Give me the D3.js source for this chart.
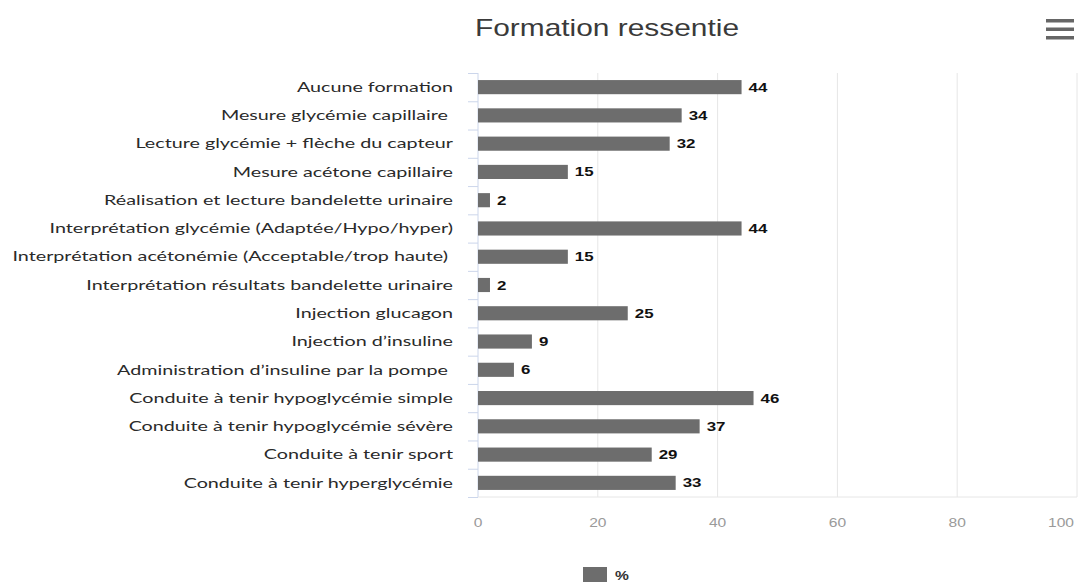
<!DOCTYPE html>
<html>
<head>
<meta charset="utf-8">
<script src="https://cdn.jsdelivr.net/npm/d3@7"></script>
<style>
  body { margin: 0; background: #fff; }
  .cat text { font-family: Lato, "Open Sans", sans-serif; font-size: 13.5px; fill: #2a2a2a; white-space: pre; }
  .axis--x text { font-family: "Liberation Sans", Arial, sans-serif; font-size: 12px; fill: #9a9a9a; }
  .val { font-family: "Liberation Sans", Arial, sans-serif; font-size: 13px; font-weight: bold; fill: #111; }
</style>
</head>
<body>
<svg id="chart" width="1082" height="588"></svg>
<script>
// formation ressentie - horizontal bars

var categories = [
  "Aucune formation",
  "Mesure glycémie capillaire ",
  "Lecture glycémie + flèche du capteur",
  "Mesure acétone capillaire",
  "Réalisation et lecture bandelette urinaire",
  "Interprétation glycémie (Adaptée/Hypo/hyper)",
  "Interprétation acétonémie (Acceptable/trop haute) ",
  "Interprétation résultats bandelette urinaire",
  "Injection glucagon",
  "Injection d’insuline",
  "Administration d’insuline par la pompe ",
  "Conduite à tenir hypoglycémie simple",
  "Conduite à tenir hypoglycémie sévère",
  "Conduite à tenir sport",
  "Conduite à tenir hyperglycémie"
];
var values = [44, 34, 32, 15, 2, 44, 15, 2, 25, 9, 6, 46, 37, 29, 33];
var xTicks = [0, 20, 40, 60, 80, 100];
var seriesName = "%";
var title = "Formation ressentie";

var svg = d3.select("#chart"),
    margin = {top: 73, right: 5, bottom: 91, left: 478},
    width = +svg.attr("width") - margin.left - margin.right,
    height = +svg.attr("height") - margin.top - margin.bottom;

// the source picture is stretched sideways, text follows
var stretch = 1.3;

var x = d3.scaleLinear().domain([0, 100]).range([0, width]),
    y = d3.scaleBand().domain(categories).range([0, height]).paddingInner(0.5).paddingOuter(0.25);

var g = svg.append("g")
    .attr("transform", "translate(" + margin.left + "," + margin.top + ")");

// grid lines
g.selectAll(".grid")
    .data(xTicks.slice(1))
    .enter().append("line")
    .attr("class", "grid")
    .attr("x1", function(d) { return x(d); })
    .attr("x2", function(d) { return x(d); })
    .attr("y1", 0)
    .attr("y2", height)
    .style("stroke", "#e6e6e6");

// category axis: line + ticks between categories
var step = height / categories.length;
g.append("line")
    .attr("x1", 0).attr("x2", 0).attr("y1", 0).attr("y2", height)
    .style("stroke", "#ccd6eb");
g.selectAll(".ytick")
    .data(d3.range(categories.length + 1))
    .enter().append("line")
    .attr("class", "ytick")
    .attr("x1", -10).attr("x2", 0)
    .attr("y1", function(i) { return i * step + 0.5; })
    .attr("y2", function(i) { return i * step + 0.5; })
    .style("stroke", "#ccd6eb");

var cat = g.append("g")
    .attr("class", "cat")
    .attr("transform", "translate(-25,0)");
var catText = cat.selectAll("text")
    .data(categories)
    .enter().append("text")
    .attr("y", function(d) { return y(d) + y.bandwidth() / 2; })
    .attr("dy", "0.35em")
    .attr("text-anchor", "end")
    .text(function(d) { return d; });
// fit the longest label to the span it has in the picture
var widest = d3.max(catText.nodes(), function(n) { return n.getComputedTextLength(); });
cat.attr("transform", "translate(-25,0) scale(" + (441 / widest) + ",1)");

// x axis
g.append("line")
    .attr("x1", 0).attr("x2", width).attr("y1", height).attr("y2", height)
    .style("stroke", "#e6e6e6");

g.append("g")
    .attr("class", "axis--x")
    .selectAll("text")
    .data(xTicks)
    .enter().append("text")
    .attr("transform", function(d) {
        var px = d == 100 ? x(d) - 16 : x(d);
        return "translate(" + px + "," + (height + 30) + ") scale(" + stretch + ",1)";
    })
    .attr("text-anchor", "middle")
    .text(function(d) { return d; });

// bars
g.selectAll(".bar")
    .data(values)
    .enter().append("rect")
    .attr("class", "bar")
    .attr("x", 0)
    .attr("y", function(d, i) { return y(categories[i]); })
    .attr("width", function(d) { return x(d); })
    .attr("height", y.bandwidth())
    .style("fill", "#6d6d6d");

g.selectAll(".val")
    .data(values)
    .enter().append("text")
    .attr("class", "val")
    .attr("transform", function(d, i) {
        return "translate(" + (x(d) + 7) + "," + (y(categories[i]) + y.bandwidth() / 2) + ") scale(" + stretch + ",1)";
    })
    .attr("dy", "0.35em")
    .text(function(d) { return d; });

// title
svg.append("text")
    .attr("transform", "translate(607,36) scale(" + stretch + ",1)")
    .attr("text-anchor", "middle")
    .style("font-family", "'Liberation Sans', Arial, sans-serif")
    .style("font-size", "23px")
    .style("fill", "#3a3a3a")
    .text(title);

// menu icon
svg.selectAll(".menu")
    .data([0, 1, 2])
    .enter().append("rect")
    .attr("class", "menu")
    .attr("x", 1046)
    .attr("y", function(d) { return 19 + d * 8.5; })
    .attr("width", 28)
    .attr("height", 3.5)
    .style("fill", "#666");

// legend
var leg = svg.append("g").attr("transform", "translate(583,567)");
leg.append("rect").attr("width", 24).attr("height", 15).style("fill", "#6d6d6d");
leg.append("text")
    .attr("transform", "translate(32,13) scale(" + stretch + ",1)")
    .style("font-family", "'Liberation Sans', Arial, sans-serif")
    .style("font-size", "12px")
    .style("font-weight", "bold")
    .style("fill", "#333")
    .text(seriesName);
</script>
</body>
</html>
